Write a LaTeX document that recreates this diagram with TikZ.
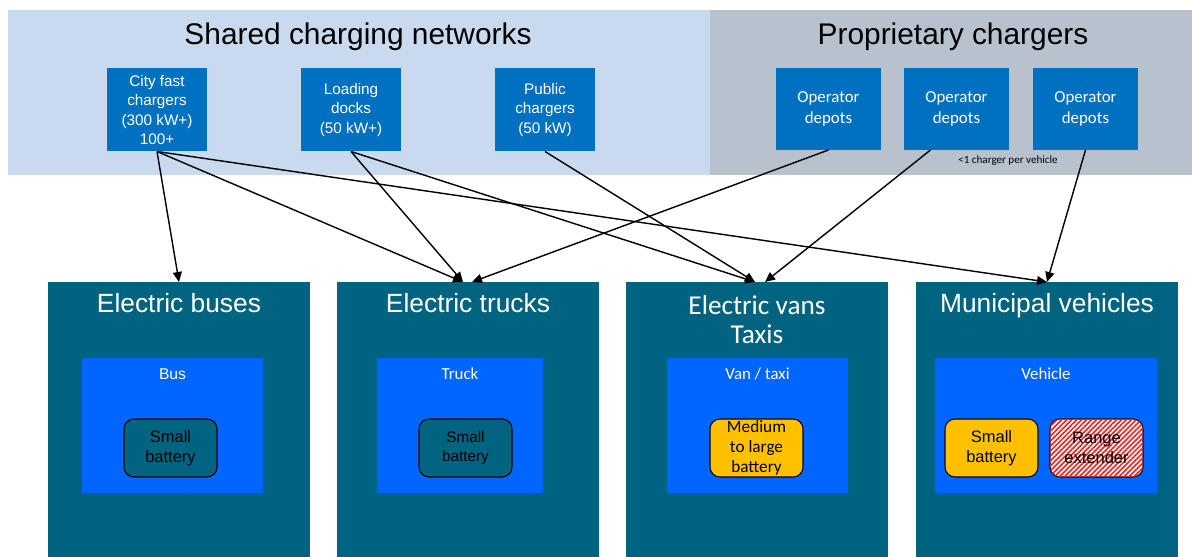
\documentclass[tikz,border=0pt]{standalone}
\usepackage{fontspec}
\setmainfont{Liberation Sans}
\newfontfamily\calib{Carlito}
\usetikzlibrary{arrows.meta,positioning,patterns.meta}
\definecolor{sharedbg}{HTML}{CADAEE}
\definecolor{propbg}{HTML}{B8C2CE}
\definecolor{charger}{HTML}{0070C0}
\definecolor{fleet}{HTML}{00637F}
\definecolor{vehblue}{HTML}{0066FF}
\definecolor{battyellow}{HTML}{FFC000}
\definecolor{hatchred}{HTML}{F02020}

\begin{document}
\begin{tikzpicture}[
x=0.2mm, y=-0.2mm,
area/.style   = {fill=#1, inner sep=0, outer sep=0, anchor=north west},
heading/.style= {font=\fontsize{17}{20}\selectfont},
charger/.style= {fill=charger, text=white, minimum width=#1,
                 minimum height=16.6mm, align=center, inner sep=1pt,
                 outer sep=0, font=\fontsize{8.7}{11}\selectfont},
depot/.style  = {charger=21mm, minimum height=16.4mm,
                 font=\calib\fontsize{9.6}{11.6}\selectfont},
fleetbox/.style={fill=fleet, minimum width=52.4mm, minimum height=55mm,
                 anchor=north, inner sep=0, outer sep=0},
fleettitle/.style={text=white, align=center, anchor=base,
                 font=\fontsize{15}{18}\selectfont},
vehbox/.style = {fill=vehblue, minimum width=#1, minimum height=27mm,
                 inner sep=0, outer sep=0},
vehlabel/.style={text=white, font=\calib\fontsize{9.6}{11}\selectfont},
battery/.style= {draw=black, line width=0.6pt, rounded corners=2mm,
                 fill=#1, minimum width=18.6mm, minimum height=11.6mm,
                 align=center, inner sep=1pt,
                 font=\fontsize{9.4}{11.3}\selectfont},
link/.style   = {line width=0.8pt, -{Triangle[length=2mm,width=1.8mm]}},
                    ]
\useasboundingbox (0,0) rectangle (1192,557);

% charger groups
\node[area=sharedbg, minimum width=140.4mm, minimum height=33mm] (shared) at (8,10) {};
\node[area=propbg, minimum width=96.4mm, minimum height=33mm] (prop) at (710,10) {};
\node[heading] (sharedt) at (358,37) {Shared charging networks};
\node[heading] (propt)   at (953,37) {Proprietary chargers};

\node[charger=20mm]                     (city) at (157,110)
        {City fast\\chargers\\(300 kW+)\\100+};
\node[charger=20mm, right=18.8mm of city] (load) {Loading\\docks\\(50 kW+)};
\node[charger=20mm, right=18.8mm of load] (pub)  {Public\\chargers\\(50 kW)};

\node[depot]                      (dep1) at (828.5,109) {Operator\\depots};
\node[depot, right=4.6mm of dep1] (dep2) {Operator\\depots};
\node[depot, right=4.8mm of dep2] (dep3) {Operator\\depots};
\node[font=\calib\fontsize{6.3}{7}\selectfont] (note) at (1008,161)
        {<1 charger per vehicle};

% vehicle fleets
\node[fleetbox]                         (buses)  at (179,282) {};
\node[fleetbox, right=5.4mm of buses]   (trucks) {};
\node[fleetbox, right=5.4mm of trucks]  (vans)   {};
\node[fleetbox, right=5.6mm of vans]    (muni)   {};

\node[fleettitle] (busest)  at ([yshift=-6.2mm]buses.north)  {Electric buses};
\node[fleettitle] (truckst) at ([yshift=-6.2mm]trucks.north) {Electric trucks};
\node[fleettitle, anchor=center, font=\calib\fontsize{15.5}{16.5}\selectfont]
                  (vanst)   at ([yshift=-7.6mm]vans.north)   {Electric vans\\Taxis};
\node[fleettitle] (munit)   at ([yshift=-6.2mm]muni.north)   {Municipal vehicles};

\node[vehbox=36.2mm] (bus)   at (172.5,425.5) {};
\node[vehbox=33.2mm] (truck) at (460,425.5)   {};
\node[vehbox=36.2mm] (van)   at (757.5,425.5) {};
\node[vehbox=44.4mm] (veh)   at (1046,425.5)  {};

\node[vehlabel, font=\fontsize{8.9}{10}\selectfont] (busl) at ([yshift=-3.2mm]bus.north) {Bus};
\node[vehlabel] (truckl) at ([yshift=-3.2mm]truck.north) {Truck};
\node[vehlabel] (vanl)   at ([yshift=-3.2mm]van.north)   {Van / taxi};
\node[vehlabel] (vehl)   at ([yshift=-3.2mm]veh.north)   {Vehicle};

\node[battery=fleet] (busbat)   at (170.5,448) {Small\\battery};
\node[battery=fleet, font=\fontsize{8.7}{11}\selectfont]
                     (truckbat) at (465.5,448) {Small\\battery};
\node[battery=battyellow, font=\calib\fontsize{9.8}{11.3}\selectfont]
                     (vanbat)   at (756.5,448) {Medium\\to large\\battery};
\node[battery=battyellow] (vehbat) at (991.5,448) {Small\\battery};
\node[battery=white, postaction={pattern={Lines[angle=45,distance=2pt,line width=0.9pt]},
                     pattern color=hatchred}]
                     (range)    at (1096.5,448) {};
\node[align=center, font=\fontsize{9.4}{11.3}\selectfont] (rangel) at (range) {Range\\extender};

% who charges where
\draw[link] (city.south) -- (buses.north);
\draw[link] (city.south) -- ([xshift=-1mm]trucks.north);
\draw[link] (city.south) -- (muni.north);
\draw[link] (load.south) -- ([xshift=-1mm]trucks.north);
\draw[link] (load.south) -- ([xshift=-0.4mm]vans.north);
\draw[link] (pub.south)  -- ([xshift=-0.4mm]vans.north);
\draw[link] (dep1.south) -- ([xshift=0.8mm]trucks.north);
\draw[link] ([xshift=-5.2mm]dep2.south) -- ([xshift=1.6mm]vans.north);
\draw[link] (dep3.south) -- (muni.north);
\end{tikzpicture}
\end{document}
